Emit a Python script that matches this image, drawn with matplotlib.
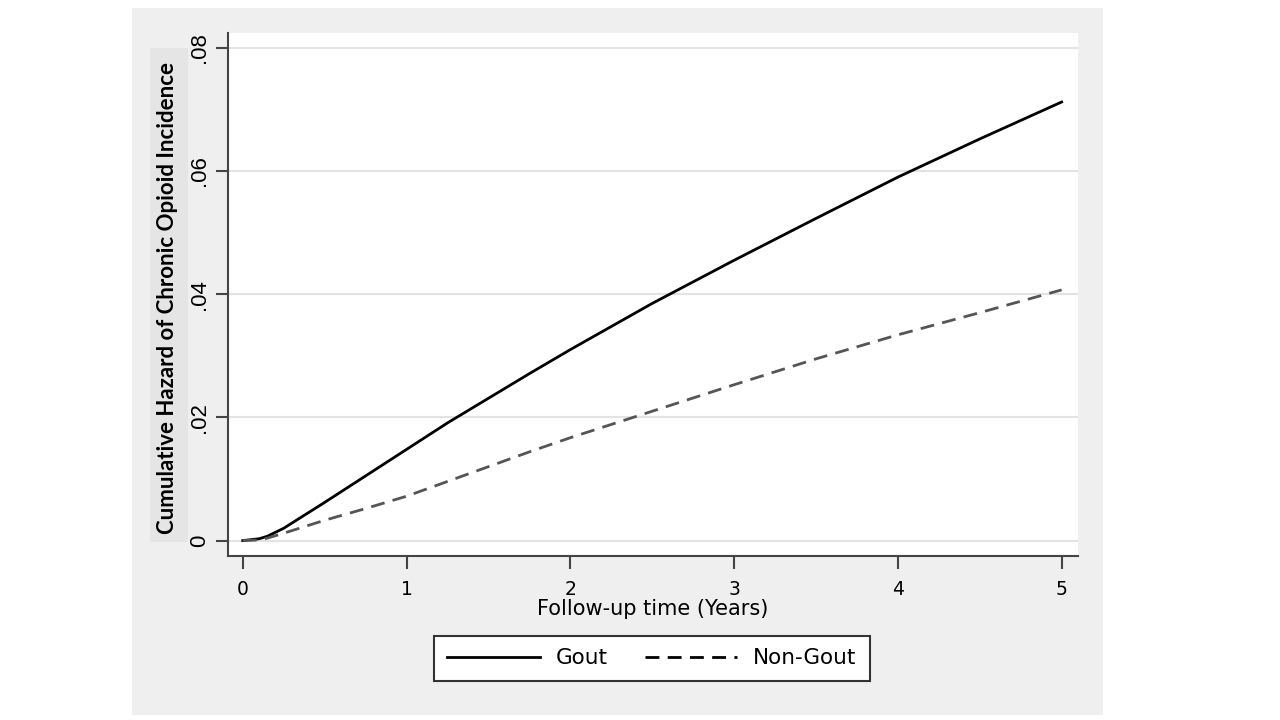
import matplotlib.pyplot as plt
from matplotlib.patches import Rectangle

# anni di follow-up e hazard cumulativo
anni = [0, 0.1, 0.15, 0.25, 0.5, 0.75, 1, 1.25, 1.5, 1.75, 2, 2.5, 3, 3.5, 4, 4.5, 5]
gout = [0, 0.0003, 0.0007, 0.002, 0.0062, 0.0105, 0.0148, 0.0191, 0.0231, 0.0271,
        0.031, 0.0385, 0.0455, 0.0523, 0.059, 0.0652, 0.0712]
non_gout = [0, 0.0001, 0.0004, 0.0012, 0.0033, 0.0052, 0.0072, 0.0096, 0.012, 0.0144,
            0.0167, 0.021, 0.0253, 0.0295, 0.0334, 0.037, 0.0407]

y_ticks = [0, 0.02, 0.04, 0.06, 0.08]
y_labels = ['0', '.02', '.04', '.06', '.08']
x_ticks = [0, 1, 2, 3, 4, 5]

plt.rcParams['font.family'] = ['DejaVu Sans']

fig = plt.figure(figsize=(12.8, 7.2), dpi=100)
fig.patch.set_facecolor('white')
# pannello grigio dietro il grafico
fig.patches.append(Rectangle((132 / 1280, 1 - 715 / 720), (1103 - 132) / 1280, (715 - 8) / 720,
                             transform=fig.transFigure, facecolor='#efefef', edgecolor='none', zorder=-2))
# riquadro grigio dietro l'etichetta y
fig.patches.append(Rectangle((150 / 1280, 1 - 542 / 720), (188 - 150) / 1280, (542 - 48) / 720,
                             transform=fig.transFigure, facecolor='#e5e5e5', edgecolor='none', zorder=-1))

ax = fig.add_axes([228 / 1280, 1 - 556 / 720, (1078 - 228) / 1280, (556 - 33) / 720])
ax.set_zorder(2)
ax.set_facecolor('white')

ax.plot(anni, gout, color='black', lw=2, label='Gout')
ax.plot(anni, non_gout, color='#555555', lw=2, ls=(0, (5, 3)), label='Non-Gout')

ax.set_xlim(-0.09, 5.1)
ax.set_ylim(-0.0025, 0.0824)
ax.set_xticks(x_ticks)
ax.set_yticks(y_ticks)
ax.set_yticklabels(y_labels, rotation=90, va='center', family=['Liberation Sans'], fontsize=16)
ax.tick_params(axis='both', length=9, width=1.5, color='#444444')
ax.tick_params(axis='x', labelsize=13.5, pad=8)
ax.tick_params(axis='y', pad=4)
ax.grid(axis='y', color='#e3e3e3', lw=1.5)
ax.set_axisbelow(True)
for s in ['top', 'right']:
    ax.spines[s].set_visible(False)
for s in ['left', 'bottom']:
    ax.spines[s].set_color('#444444')
    ax.spines[s].set_linewidth(1.5)

ax.set_xlabel('Follow-up time (Years)', fontsize=15, labelpad=0)
fig.text(168 / 1280, 1 - 298 / 720, 'Cumulative Hazard of Chronic Opioid Incidence',
         rotation=90, ha='center', va='center', fontsize=16, fontweight='bold',
         family=['Lato', 'DejaVu Sans'], zorder=3)

leg = fig.legend(*ax.get_legend_handles_labels(), loc='center',
                 bbox_to_anchor=(652 / 1280, 1 - 658.5 / 720), ncol=2, frameon=True,
                 fancybox=False, fontsize=15.5, handlelength=4.3, columnspacing=1.7,
                 borderpad=0.6, handletextpad=0.75, framealpha=1)
leg.set_zorder(3)
leg.get_frame().set_edgecolor('#333333')
leg.get_frame().set_linewidth(1.5)
leg.legend_handles[1].set_color('black')

fig.savefig('out.png', dpi=100)
